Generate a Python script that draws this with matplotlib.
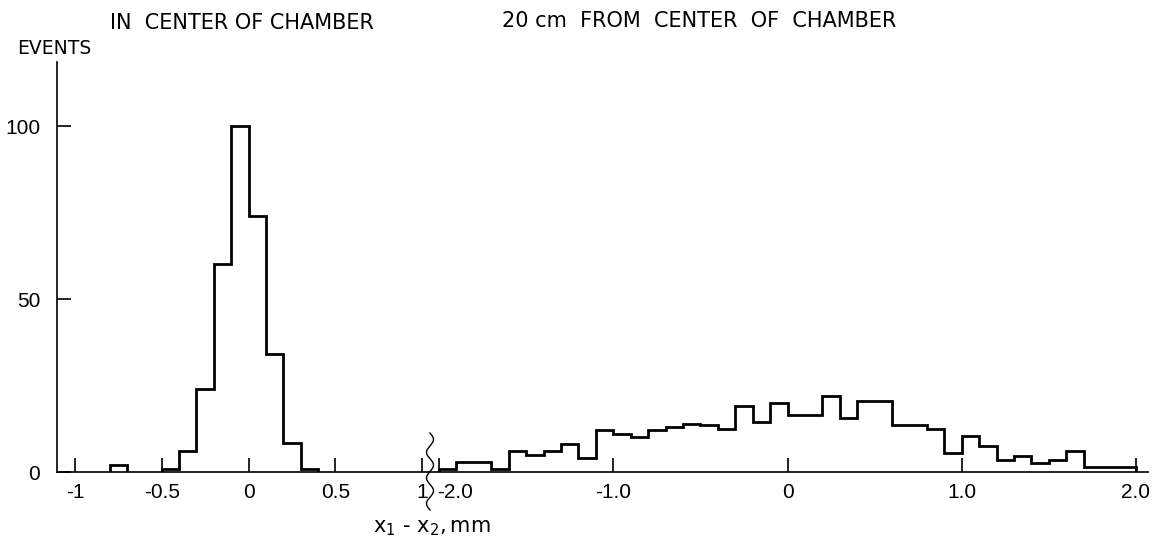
import numpy as np
import matplotlib
matplotlib.use("Agg")
import matplotlib.pyplot as plt
import matplotlib.transforms as mtransforms
from matplotlib.lines import Line2D

plt.rcParams['font.family'] = ['DejaVu Sans']
plt.rcParams['axes.unicode_minus'] = False

# left panel: in center of chamber, bins of 0.1 mm from -1 to 1
left_edges = np.linspace(-1.0, 1.0, 21)
left_counts = [0, 0, 2, 0, 0, 1, 6, 24, 60, 100,
               74, 34, 8.5, 1, 0, 0, 0, 0, 0, 0]
left_ticks = [-1, -0.5, 0, 0.5, 1]
left_labels = ["-1", "-0.5", "0", "0.5", "1"]

# right panel: 20 cm from center, bins of 0.1 mm from -2 to 2
right_edges = np.linspace(-2.0, 2.0, 41)
right_counts = [1, 3, 3, 1, 6, 5, 6, 8, 4, 12,
                11, 10, 12, 13, 14, 13.5, 12.5, 19, 14.5, 20,
                16.5, 16.5, 22, 15.5, 20.5, 20.5, 13.5, 13.5, 12.5, 5.5,
                10.5, 7.5, 3.5, 4.5, 2.5, 3.5, 6, 1.5, 1.5, 1.5]
right_ticks = [-2, -1, 0, 1, 2]
right_labels = ["-2.0", "-1.0", "0", "1.0", "2.0"]

y_ticks = [0, 50, 100]

W, H = 1161, 550
fig = plt.figure(figsize=(W / 100, H / 100), dpi=100)


def fx(px):
    return px / W


def fy(py):
    return 1 - py / H


x0, xb, x1 = 57, 430, 1148
ytop, ybot = 62, 472
axl = fig.add_axes([fx(x0), fy(ybot), fx(xb - x0), fy(ytop) - fy(ybot)])
axr = fig.add_axes([fx(xb), fy(ybot), fx(x1 - xb), fy(ytop) - fy(ybot)])

axl.set_xlim(-1.104, 1.046)
axr.set_xlim(-2.052, 2.069)
for ax in (axl, axr):
    ax.set_ylim(0, 118.5)
    ax.patch.set_alpha(0)
    for s in ('top', 'right'):
        ax.spines[s].set_visible(False)
    ax.spines['bottom'].set_linewidth(1.2)
    ax.spines['left'].set_linewidth(1.2)
    ax.tick_params(axis='x', direction='in', length=10, width=1.2, pad=8)
    ax.tick_params(axis='y', direction='in', length=10, width=1.2, pad=12)

axr.spines['left'].set_visible(False)
axr.set_yticks([])
axl.set_yticks(y_ticks)
axl.set_xticks(left_ticks, left_labels)
axr.set_xticks(right_ticks, right_labels)
for lab in axl.get_xticklabels() + axl.get_yticklabels() + axr.get_xticklabels():
    lab.set_fontfamily('Liberation Sans')
    lab.set_fontsize(15)

# first right label sits just after the break
first = axr.get_xticklabels()[0]
first.set_horizontalalignment('left')
first.set_transform(first.get_transform() +
                    mtransforms.ScaledTranslation(-2 / 100, 0, fig.dpi_scale_trans))


def draw_hist(ax, edges, counts):
    counts = np.asarray(counts, dtype=float)
    i = 0
    n = len(counts)
    while i < n:
        if counts[i] > 0:
            j = i
            while j < n and counts[j] > 0:
                j += 1
            ax.stairs(counts[i:j], edges[i:j + 1], color='black',
                      linewidth=2.0, baseline=0)
            i = j
        else:
            i += 1


draw_hist(axl, left_edges, left_counts)
draw_hist(axr, right_edges, right_counts)

# axis break squiggle
yy = np.linspace(433, 510, 200)
xx = xb + 3.5 * np.sin((yy - 433) / 77 * 2 * np.pi * 3.0)
fig.add_artist(Line2D(fx(xx), fy(yy), color='black', linewidth=1.0))

fig.text(fx(110), fy(23), "IN  CENTER OF CHAMBER", fontsize=15,
         ha='left', va='center')
fig.text(fx(502), fy(21), "20 cm  FROM  CENTER  OF  CHAMBER", fontsize=15,
         ha='left', va='center')
fig.text(fx(17), fy(49), "EVENTS", fontsize=13.5, ha='left', va='center')
fig.text(fx(432), fy(528), r"$\mathregular{x_1\ \text{-}\ x_2,mm}$",
         fontsize=15, ha='center', va='center')

fig.savefig("out.png", dpi=100)
